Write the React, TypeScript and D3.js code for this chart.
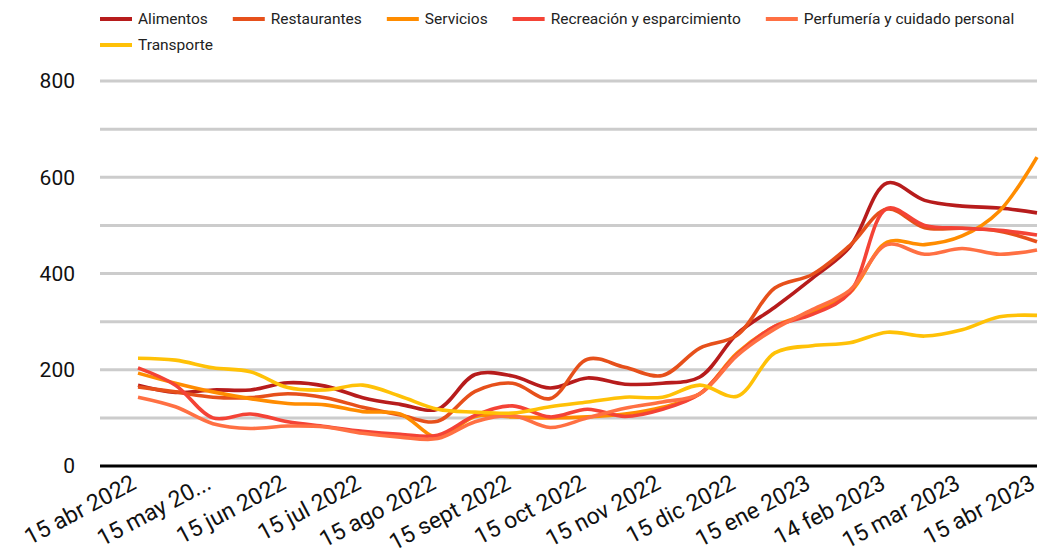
import React from "react";
import * as d3 from "d3";

// semi-monthly observations, 15 abr 2022 -> 15 abr 2023
const tickLabels = [
  "15 abr 2022", "15 may 20...", "15 jun 2022", "15 jul 2022", "15 ago 2022",
  "15 sept 2022", "15 oct 2022", "15 nov 2022", "15 dic 2022", "15 ene 2023",
  "14 feb 2023", "15 mar 2023", "15 abr 2023",
];

const alimentos = [168, 153, 158, 158, 173, 166, 142, 128, 118, 190, 187, 162, 183, 170, 172, 185, 275, 330, 390, 455, 588, 552, 540, 536, 526];
const restaurantes = [164, 154, 143, 142, 150, 142, 122, 106, 93, 155, 172, 140, 222, 205, 188, 245, 272, 370, 398, 458, 534, 495, 494, 488, 466];
const servicios = [193, 172, 154, 140, 130, 127, 113, 108, 60, 103, 102, 100, 102, 108, 122, 150, 235, 290, 320, 360, 465, 460, 478, 530, 642];
const recreacion = [204, 168, 100, 108, 92, 82, 72, 66, 64, 105, 125, 102, 118, 103, 118, 150, 232, 290, 315, 360, 535, 500, 494, 490, 480];
const perfumeria = [143, 123, 88, 78, 83, 81, 68, 60, 57, 92, 105, 80, 100, 120, 133, 150, 230, 285, 325, 365, 460, 440, 452, 440, 449];
const transporte = [224, 220, 204, 196, 163, 158, 168, 145, 118, 112, 110, 123, 133, 143, 143, 168, 145, 235, 250, 256, 278, 270, 283, 310, 313];

const seriesNames = [
  "Alimentos", "Restaurantes", "Servicios",
  "Recreación y esparcimiento", "Perfumería y cuidado personal", "Transporte",
];
const seriesValues = [alimentos, restaurantes, servicios, recreacion, perfumeria, transporte];
const colors = ["#b71c1c", "#e6501b", "#ff8c00", "#f44336", "#ff7043", "#ffc107"];

const W = 1041;
const H = 556;
const FONT = "Roboto, 'Noto Sans', sans-serif";

export default function App() {
  const x = d3.scalePoint<number>().domain(d3.range(alimentos.length)).range([138, 1037]);
  const y = d3.scaleLinear().domain([0, 800]).range([466, 81]);
  const line = d3
    .line<number>()
    .x((_, i) => x(i) as number)
    .y((d) => y(d))
    .curve(d3.curveCatmullRom.alpha(0.5));

  // legend layout, wraps onto a second row
  const ctx = document.createElement("canvas").getContext("2d")!;
  ctx.font = `15.5px ${FONT}`;
  let cx = 100;
  let row = 0;
  const legend = seriesNames.map((name, i) => {
    const w = 38 + ctx.measureText(name).width;
    if (cx + w > 1045) {
      cx = 100;
      row += 1;
    }
    const item = { name, color: colors[i], x: cx, y: 19 + row * 26 };
    cx += w + 25;
    return item;
  });

  return (
    <svg width={W} height={H} style={{ position: "absolute", left: 0, top: 0 }} fontFamily={FONT}>
      <rect width={W} height={H} fill="#fff" />
      {legend.map((d) => (
        <g key={d.name} transform={`translate(${d.x},${d.y})`}>
          <line x1={0} x2={32} stroke={d.color} strokeWidth={4} />
          <text x={38} dy="0.35em" fontSize={15.5} fill="#222">{d.name}</text>
        </g>
      ))}
      {d3.range(100, 801, 100).map((v) => (
        <line key={v} x1={100} x2={1037} y1={y(v)} y2={y(v)} stroke="#cccccc" strokeWidth={3} />
      ))}
      {d3.range(0, 801, 200).map((v) => (
        <text key={v} x={75} y={y(v)} dy="0.35em" textAnchor="end" fontSize={21} fill="#111">{v}</text>
      ))}
      {seriesValues.map((vals, i) => (
        <path key={seriesNames[i]} d={line(vals) ?? ""} fill="none" stroke={colors[i]} strokeWidth={3.6} strokeLinejoin="round" />
      ))}
      <line x1={100} x2={1037} y1={y(0)} y2={y(0)} stroke="#000" strokeWidth={3} />
      {tickLabels.map((t, i) => (
        <text
          key={t}
          transform={`translate(${x(i * 2)},${y(0) + 14}) rotate(-28)`}
          x={-4}
          textAnchor="end"
          dy="0.3em"
          fontSize={23}
          fill="#111"
        >
          {t}
        </text>
      ))}
    </svg>
  );
}
